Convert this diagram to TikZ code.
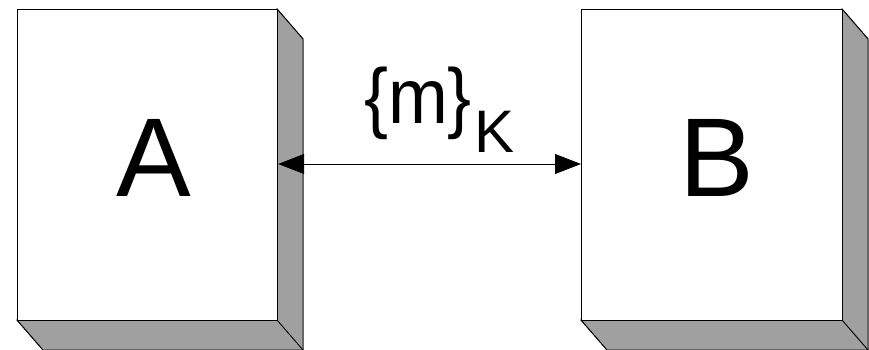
\documentclass[tikz,border=0pt]{standalone}
\usepackage{fontspec}
\setmainfont{Liberation Sans}
\usetikzlibrary{arrows.meta}
\definecolor{sidegray}{RGB}{160,160,160}
\tikzset{
  x=1pt, y=-1pt,
  front/.style={draw=black, line width=1.2pt, fill=white},
  shade/.style={draw=black, line width=0.9pt, fill=sidegray, line join=miter},
  letter/.style={inner sep=0pt, font=\fontsize{112}{112}\selectfont},
  link/.style={line width=0.8pt, {Triangle[length=26pt,width=20pt]}-{Triangle[length=26pt,width=20pt]}},
}
\newcommand{\blockbox}[5]{%
  % #1 name, #2 left, #3 top, #4 right, #5 bottom; depth offset (26,30)
  \fill[shade] (#4,#3) -- (#4+26,#3+30) -- (#4+26,#5+30) -- (#4,#5) -- cycle;
  \fill[shade] (#2,#5) -- (#4,#5) -- (#4+26,#5+30) -- (#2+26,#5+30) -- cycle;
  \draw[shade] (#4,#3) -- (#4+26,#3+30) -- (#4+26,#5+30) -- (#2+26,#5+30) -- (#2,#5);
  \draw[shade] (#4,#5) -- (#4+26,#5+30);
  \node[front, minimum width=#4-#2, minimum height=#5-#3, inner sep=0pt, anchor=north west] (#1) at (#2,#3) {};
}
\begin{document}
\begin{tikzpicture}
\useasboundingbox (0,0) rectangle (869,350);
\blockbox{a}{17}{9}{277}{320}
\blockbox{b}{581}{9}{842}{320}
\node[letter] (la) at (154,157.5) {A};
\node[letter] (lb) at (717,157.5) {B};
\draw[link] (a.east |- 0,164) -- (b.west |- 0,164);
\node[inner sep=0pt, anchor=base west, xscale=0.92, font=\fontsize{78}{78}\selectfont] (msg) at (364,124) {\{m\}};
\node[inner sep=0pt, anchor=base west, font=\fontsize{60}{60}\selectfont] (key) at (474,152) {K};
\end{tikzpicture}
\end{document}
